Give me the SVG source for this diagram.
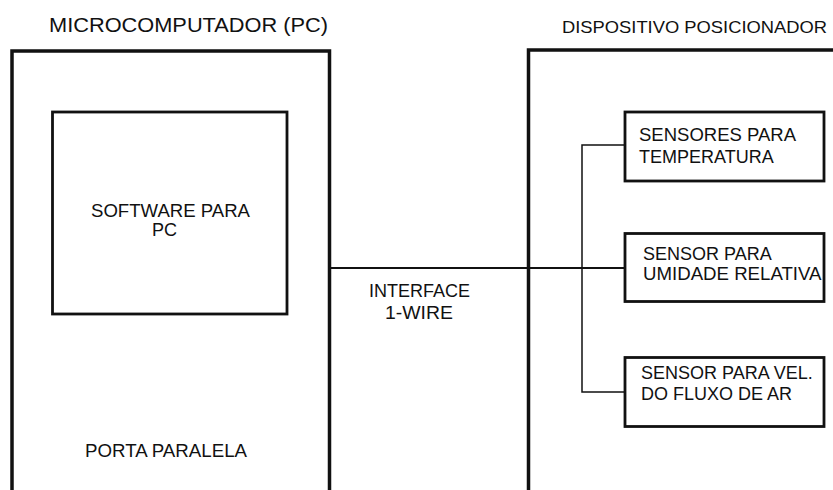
<svg xmlns="http://www.w3.org/2000/svg" width="833" height="490" viewBox="0 0 833 490">
<style>
  .big { fill: none; stroke: #111; stroke-width: 3.5; }
  .box { fill: #fff; stroke: #111; stroke-width: 2.8; }
  .wire { fill: none; stroke: #111; }
  text { font-family: "Liberation Sans", Arial, sans-serif; font-size: 18px; fill: #111; }
  .title { font-size: 20px; }
</style>
<rect width="833" height="490" fill="#fff"/>
<g id="pc">
  <path class="big" d="M12,495 V51 H329.5 V495"/>
  <text class="title" x="49" y="32" textLength="279" lengthAdjust="spacingAndGlyphs">MICROCOMPUTADOR (PC)</text>
  <text x="85" y="457" textLength="162" lengthAdjust="spacingAndGlyphs">PORTA PARALELA</text>
</g>
<g id="software">
  <rect class="box" x="52.5" y="112" width="234.5" height="202"/>
  <text x="91" y="217" textLength="159" lengthAdjust="spacingAndGlyphs">SOFTWARE PARA</text>
  <text x="152" y="236">PC</text>
</g>
<g id="dispositivo">
  <path class="big" d="M528.5,495 V50 H840"/>
  <text class="title" x="562" y="33" font-size="17" style="font-size:17px" textLength="265" lengthAdjust="spacingAndGlyphs">DISPOSITIVO POSICIONADOR</text>
</g>
<g id="connectors">
  <line class="wire" x1="330" y1="268" x2="625" y2="268" stroke-width="2"/>
  <polyline class="wire" points="625,145 582,145 582,392 625,392" stroke-width="1.5"/>
</g>
<g id="interface-label">
  <text x="369" y="297" textLength="101" lengthAdjust="spacingAndGlyphs">INTERFACE</text>
  <text x="385" y="318.5" textLength="68" lengthAdjust="spacingAndGlyphs">1-WIRE</text>
</g>
<g id="sensor-temp">
  <rect class="box" x="625" y="112" width="199" height="69"/>
  <text x="639" y="141" textLength="157" lengthAdjust="spacingAndGlyphs">SENSORES PARA</text>
  <text x="639" y="162.5">TEMPERATURA</text>
</g>
<g id="sensor-umid">
  <rect class="box" x="625" y="233.5" width="199" height="68"/>
  <text x="643" y="260">SENSOR PARA</text>
  <text x="643" y="280" textLength="178.5" lengthAdjust="spacingAndGlyphs">UMIDADE RELATIVA</text>
</g>
<g id="sensor-fluxo">
  <rect class="box" x="625" y="357.5" width="199" height="69"/>
  <text x="641" y="378.5">SENSOR PARA VEL.</text>
  <text x="641" y="400">DO FLUXO DE AR</text>
</g>
</svg>
